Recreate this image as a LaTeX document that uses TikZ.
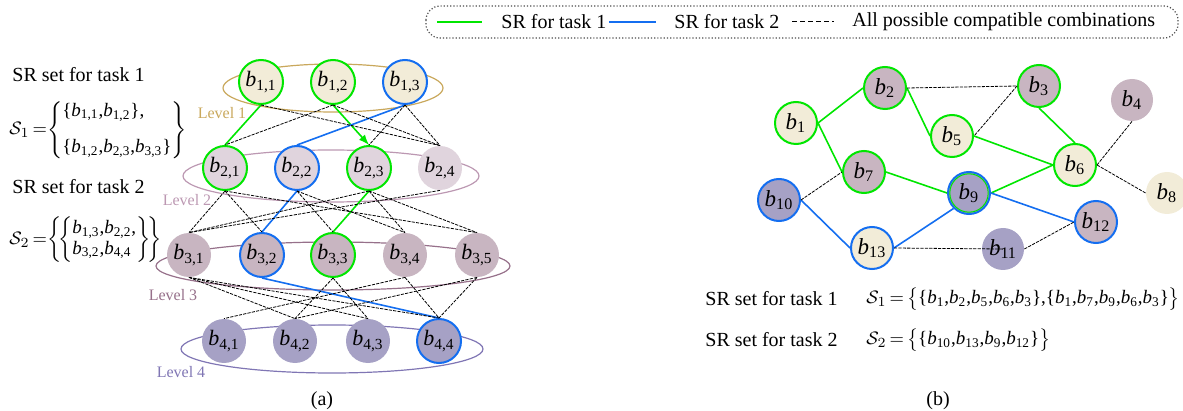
\documentclass[tikz,border=0pt]{standalone}
\usepackage{amsmath}
\usepackage{amssymb}
\usepackage{fontspec}
\setmainfont{Liberation Serif}
\usepackage{tikz}
\pgfdeclarelayer{bg}
\pgfsetlayers{bg,main}

\definecolor{beige}{RGB}{242,236,216}
\definecolor{mauvelight}{RGB}{224,212,221}
\definecolor{mauve}{RGB}{200,181,193}
\definecolor{lavender}{RGB}{166,161,197}
\definecolor{ringone}{RGB}{201,168,92}
\definecolor{ringtwo}{RGB}{188,152,178}
\definecolor{ringthree}{RGB}{150,112,138}
\definecolor{ringfour}{RGB}{128,118,180}
\definecolor{srgreen}{RGB}{0,230,0}
\definecolor{srblue}{RGB}{20,110,240}

\newcommand{\bs}[1]{\textit{b}\textsubscript{#1}}
\newcommand{\setS}[1]{$\mathcal{S}_{#1}\,{=}\,$}

\tikzset{
  bnode/.style={circle, inner sep=0pt, minimum size=22pt, font=\fontsize{11}{12}\selectfont},
  bnodeb/.style={bnode, minimum size=21pt, font=\fontsize{11.5}{12}\selectfont},
  gring/.style={draw=srgreen, line width=1pt},
  bring/.style={draw=srblue, line width=1pt},
  taskone/.style={srgreen, line width=0.8pt},
  tasktwo/.style={srblue, line width=0.8pt},
  compat/.style={black, line width=0.4pt, dash pattern=on 1.6pt off 0.6pt},
  lvllabel/.style={font=\fontsize{8}{9}\selectfont},
  settext/.style={anchor=west, inner sep=0pt},
  setmath/.style={settext, font=\fontsize{9.5}{11}\selectfont}
}

\begin{document}
\begin{tikzpicture}[x=0.5pt, y=-0.5pt]
    \useasboundingbox (0,0) rectangle (1183,411);

    % legend
    \draw [draw=black!70, densely dotted, line width=0.6pt, rounded corners=7pt] (426,6) rectangle (1178,38);
    \coordinate (g1) at (437,22);  \coordinate (g2) at (482,22);
    \coordinate (u1) at (609,22);  \coordinate (u2) at (656,22);
    \coordinate (d1) at (792,22);  \coordinate (d2) at (834,22);
    \draw [taskone] (g1) -- (g2);
    \draw [tasktwo] (u1) -- (u2);
    \draw [black, line width=0.5pt, dash pattern=on 2.5pt off 1.5pt] (d1) -- (d2);
    \node [settext] (lg1) at (501,22) { SR for task 1 };
    \node [settext] (lg2) at (674,22) { SR for task 2 };
    \node [settext] (lg3) at (852,22) { All possible compatible combinations };

    % (a) sets
    \node [settext] (ta1) at (12,75) { SR set for task 1 };
    \node [setmath] (sa1) at (9,130) {\setS{1}$\!\left\{\begin{tabular}{@{}l@{}}\{\bs{1,1},\bs{1,2}\},\\[7pt]\{\bs{1,2},\bs{2,3},\bs{3,3}\}\end{tabular}\right\}$};
    \node [settext] (ta2) at (12,187) { SR set for task 2 };
    \node [setmath] (sa2) at (9,240) {\renewcommand{\arraystretch}{0.92}\setS{2}$\!\left\{\!\left\{\begin{tabular}{@{}l@{}}\bs{1,3},\bs{2,2},\\\bs{3,2},\bs{4,4}\end{tabular}\right\}\!\right\}$};

    % (a) levels
    \node [bnode, fill=beige, gring] (b11) at (261,82) { \bs{1,1} };
    \node [bnode, fill=beige, gring] (b12) at (333,82) { \bs{1,2} };
    \node [bnode, fill=beige, bring] (b13) at (405,82) { \bs{1,3} };

    \node [bnode, fill=mauvelight, gring] (b21) at (225,168) { \bs{2,1} };
    \node [bnode, fill=mauvelight, bring] (b22) at (297,168) { \bs{2,2} };
    \node [bnode, fill=mauvelight, gring] (b23) at (369,168) { \bs{2,3} };
    \node [bnode, fill=mauvelight] (b24) at (440,168) { \bs{2,4} };

    \node [bnode, fill=mauve] (b31) at (189,255) { \bs{3,1} };
    \node [bnode, fill=mauve, bring] (b32) at (262,255) { \bs{3,2} };
    \node [bnode, fill=mauve, gring] (b33) at (333,255) { \bs{3,3} };
    \node [bnode, fill=mauve] (b34) at (405,255) { \bs{3,4} };
    \node [bnode, fill=mauve] (b35) at (477,255) { \bs{3,5} };

    \node [bnode, fill=lavender] (b41) at (224,341) { \bs{4,1} };
    \node [bnode, fill=lavender] (b42) at (295,341) { \bs{4,2} };
    \node [bnode, fill=lavender] (b43) at (368,341) { \bs{4,3} };
    \node [bnode, fill=lavender, bring] (b44) at (439,341) { \bs{4,4} };

    \node [lvllabel, text=ringone] (lv1) at (222,113) { Level 1 };
    \node [lvllabel, text=ringtwo] (lv2) at (187,200) { Level 2 };
    \node [lvllabel, text=ringthree] (lv3) at (173,295) { Level 3 };
    \node [lvllabel, text=ringfour] (lv4) at (181,372) { Level 4 };

    \begin{pgfonlayer}{bg}    % level rings behind the nodes
      \draw [ringone, line width=0.6pt] (333,88) ellipse [x radius=55pt, y radius=12pt];
      \draw [ringtwo, line width=0.6pt] (331,176) ellipse [x radius=74pt, y radius=13pt];
      \draw [ringthree, line width=0.6pt] (333,266) ellipse [x radius=88.5pt, y radius=12pt];
      \draw [ringfour, line width=0.6pt] (332,349) ellipse [x radius=75.5pt, y radius=12pt];
    \end{pgfonlayer}

    % level 1 - level 2
    \draw [taskone] (b11.south) -- (b21.north);
    \draw [taskone, -latex] (b12.south) -- (b23.north);
    \draw [tasktwo] (b13.south) -- (b22.north);
    \draw [compat] (b11.south) -- (b24.north);
    \draw [compat] (b12.south) -- (b21.north);
    \draw [compat] (b12.south) -- (b24.north);
    \draw [compat] (b13.south) -- (b23.north);
    \draw [compat] (b13.south) -- (b24.north);

    % level 2 - level 3
    \draw [tasktwo] (b22.south) -- (b32.north);
    \draw [taskone] (b23.south) -- (b33.north);
    \draw [compat] (b21.south) -- (b31.north);
    \draw [compat] (b21.south) -- (b32.north);
    \draw [compat] (b21.south) -- (b35.north);
    \draw [compat] (b22.south) -- (b33.north);
    \draw [compat] (b22.south) -- (b34.north);
    \draw [compat] (b23.south) -- (b31.north);
    \draw [compat] (b23.south) -- (b34.north);
    \draw [compat] (b23.south) -- (b35.north);
    \draw [compat] (b24.south) -- (b31.north);

    % level 3 - level 4
    \draw [tasktwo] (b32.south) -- (b44.north);
    \draw [compat] (b31.south) -- (b42.north);
    \draw [compat] (b31.south) -- (b43.north);
    \draw [compat] (b31.south) -- (b44.north);
    \draw [compat] (b33.south) -- (b42.north);
    \draw [compat] (b33.south) -- (b43.north);
    \draw [compat] (b34.south) -- (b41.north);
    \draw [compat] (b34.south) -- (b44.north);
    \draw [compat] (b35.south) -- (b42.north);
    \draw [compat] (b35.south) -- (b44.north);

    \node (capa) at (322,401) { (a) };

    % (b) network
    \node [bnodeb, fill=beige, gring] (n1) at (796,123) { \bs{1} };
    \node [bnodeb, fill=mauve, gring] (n2) at (885,88) { \bs{2} };
    \node [bnodeb, fill=mauve, gring] (n3) at (1039,86) { \bs{3} };
    \node [bnodeb, fill=mauve] (n4) at (1132,100) { \bs{4} };
    \node [bnodeb, fill=beige, gring] (n5) at (952,136) { \bs{5} };
    \node [bnodeb, fill=beige, gring] (n6) at (1075,165) { \bs{6} };
    \node [bnodeb, fill=mauve, gring] (n7) at (864,172) { \bs{7} };
    \node [bnodeb, fill=beige] (n8) at (1167,193) { \bs{8} };
    \node [bnodeb, fill=lavender, bring] (n9) at (969,193) { \bs{9} };
    \draw [srgreen, line width=0.5pt] (n9) circle (9.6pt);
    \node [bnodeb, fill=lavender, bring] (n10) at (779,200) { \bs{10} };
    \node [bnodeb, fill=lavender] (n11) at (1003,249) { \bs{11} };
    \node [bnodeb, fill=mauve, bring] (n12) at (1096,222) { \bs{12} };
    \node [bnodeb, fill=beige, bring] (n13) at (872,248) { \bs{13} };

    \draw [taskone] (n1.east) -- (n2.west);
    \draw [taskone] (n1.east) -- (n7.west);
    \draw [taskone] (n2.east) -- (n5.west);
    \draw [taskone] (n3.south) -- (n6.north);
    \draw [taskone] (n5.east) -- (n6.west);
    \draw [taskone] (n7.east) -- (n9.west);
    \draw [taskone] (n9.east) -- (n6.west);
    \draw [tasktwo] (n10.east) -- (n13.west);
    \draw [tasktwo] (n13.east) -- (n9.south west);
    \draw [tasktwo] (n9.east) -- (n12.west);
    \draw [compat] (n2.east) -- (n3.west);
    \draw [compat] (n3.west) -- (n5.east);
    \draw [compat] (n6.east) -- (n4.south);
    \draw [compat] (n6.east) -- (n8.west);
    \draw [compat] (n10.east) -- (n7.west);
    \draw [compat] (n13.east) -- (n11.center);
    \draw [compat] (n11.east) -- (n12.west);

    % (b) sets
    \node [settext] (tb1) at (705,299) { SR set for task 1 };
    \node [setmath] (sb1) at (866,299) {\setS{1}$\big\{$\{\bs{1},\bs{2},\bs{5},\bs{6},\bs{3}\},\{\bs{1},\bs{7},\bs{9},\bs{6},\bs{3}\}$\big\}$};
    \node [settext] (tb2) at (705,340) { SR set for task 2 };
    \node [setmath] (sb2) at (866,340) {\setS{2}$\big\{$\{\bs{10},\bs{13},\bs{9},\bs{12}\}$\big\}$};

    \node (capb) at (938,401) { (b) };
\end{tikzpicture}
\end{document}
